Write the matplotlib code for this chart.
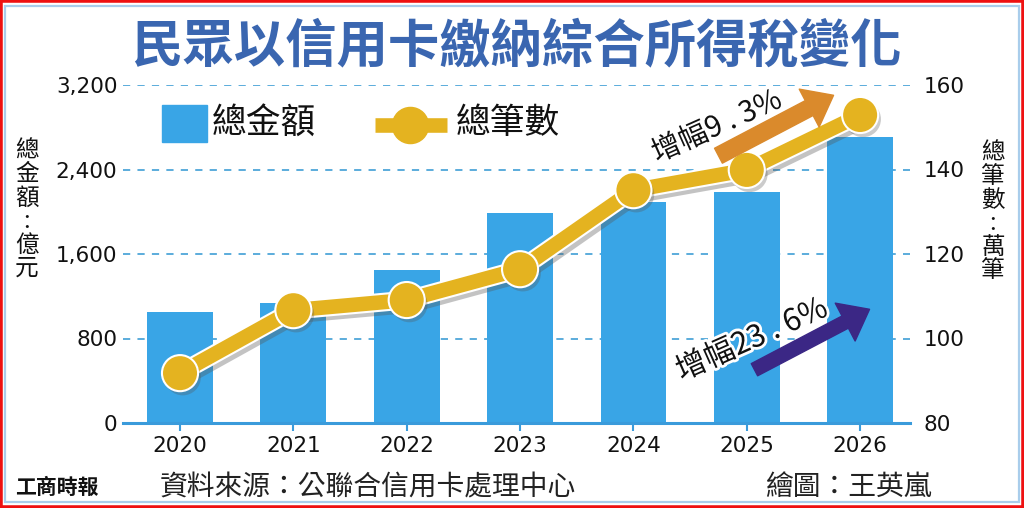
import matplotlib
matplotlib.use('Agg')
import matplotlib.pyplot as plt
import matplotlib.patheffects as pe
from matplotlib.patches import Rectangle, FancyArrowPatch
from matplotlib.lines import Line2D

plt.rcParams['font.family'] = ['Noto Sans CJK TC', 'DejaVu Sans']

years = ['2020', '2021', '2022', '2023', '2024', '2025', '2026']
amount = [1050, 1140, 1450, 1990, 2090, 2190, 2705]   # 總金額 億元
count = [91.8, 106.7, 109.1, 116.4, 135.1, 139.9, 152.9]  # 總筆數 萬筆
left_ticks = [0, 800, 1600, 2400, 3200]
right_ticks = [80, 100, 120, 140, 160]

W, H = 1024, 508
fig = plt.figure(figsize=(W / 100, H / 100), dpi=100)
fig.patch.set_facecolor('white')

def fx(px):
    return px / W

def fy(py):
    return 1 - py / H

bar_c = '#39A5E6'
line_c = '#E4B320'
grid_c = '#4EA6D9'

ax = fig.add_axes([fx(123), fy(423), fx(910) - fx(123), fy(85) - fy(423)])
x = list(range(len(years)))
ax.bar(x, amount, width=0.58, color=bar_c, zorder=2)
ax.set_xlim(-0.503, 6.44)
ax.set_ylim(0, 3200)
ax.set_yticks(left_ticks)
ax.set_yticklabels([f'{v:,}' for v in left_ticks])
ax.set_xticks(x)
ax.set_xticklabels(years)
ax.set_axisbelow(True)
ax.grid(axis='y', color=grid_c, linestyle=(0, (4, 4)), linewidth=1.3)
for s in ['top', 'right', 'left']:
    ax.spines[s].set_visible(False)
ax.spines['bottom'].set_color('#3A9BDB')
ax.spines['bottom'].set_linewidth(2.2)
ax.spines['bottom'].set_zorder(5)
ax.tick_params(axis='y', length=0, pad=4, labelsize=15.5)
ax.tick_params(axis='x', length=6, width=1.5, color='#3A9BDB', pad=3, labelsize=15.5)
for lab in ax.get_xticklabels() + ax.get_yticklabels():
    lab.set_family('DejaVu Sans')
    lab.set_color('#111111')

ax2 = ax.twinx()
ax2.set_ylim(80, 160)
ax2.set_yticks(right_ticks)
for s in ['top', 'right', 'left', 'bottom']:
    ax2.spines[s].set_visible(False)
ax2.tick_params(axis='y', length=0, pad=10, labelsize=15.5)
for lab in ax2.get_yticklabels():
    lab.set_family('DejaVu Sans')
    lab.set_color('#111111')

shadow = pe.SimpleLineShadow(offset=(3, -4), shadow_color='#555555', alpha=0.35)
ax2.plot(x, count, color=line_c, linewidth=10.5, solid_joinstyle='round',
         path_effects=[shadow, pe.Stroke(linewidth=13.5, foreground='white'), pe.Normal()],
         zorder=4)
ax2.plot(x, count, linestyle='none', marker='o', markersize=26,
         markerfacecolor=line_c, markeredgecolor='white', markeredgewidth=1.5,
         path_effects=[pe.SimplePatchShadow(offset=(2, -3), shadow_rgbFace='#555555', alpha=0.3),
                       pe.Normal()], zorder=5)

# title
fig.text(fx(516), fy(46), '民眾以信用卡繳納綜合所得稅變化', ha='center', va='center',
         fontsize=37, fontweight='bold', color='#3A66B0')

# legend
fig.patches.append(Rectangle((fx(162), fy(142)), fx(45), 37 / H, transform=fig.transFigure,
                             color=bar_c, zorder=5))
fig.text(fx(212), fy(124), '總金額', ha='left', va='center', fontsize=25, color='#111111')
fig.add_artist(Line2D([fx(375), fx(447)], [fy(125), fy(125)], transform=fig.transFigure,
                      color=line_c, linewidth=10.5, solid_capstyle='butt', zorder=5))
fig.add_artist(Line2D([fx(410)], [fy(125)], transform=fig.transFigure, marker='o',
                      markersize=26, color=line_c, markeredgecolor=line_c, zorder=6))
fig.text(fx(456), fy(124), '總筆數', ha='left', va='center', fontsize=25, color='#111111')

# axis titles
fig.text(fx(27), fy(210), '\n'.join(['總', '金', '額', ':', '億', '元']), ha='center',
         va='center', fontsize=17, linespacing=1.02, color='#111111')
fig.text(fx(993), fy(212), '\n'.join(['總', '筆', '數', ':', '萬', '筆']), ha='center',
         va='center', fontsize=17, linespacing=1.02, color='#111111')

# growth annotations
white_edge = [pe.withStroke(linewidth=4, foreground='white')]
fig.add_artist(FancyArrowPatch(
    (fx(716), fy(157)), (fx(836), fy(94)), transform=fig.transFigure,
    arrowstyle='simple,head_length=0.9,head_width=1.4,tail_width=0.55',
    mutation_scale=22, color='#DA8A2C', zorder=6))
fig.text(fx(717), fy(127), '增幅9 . 3%', ha='center', va='center', rotation=24,
         fontsize=21, color='#111111', path_effects=white_edge, zorder=7)
fig.add_artist(FancyArrowPatch(
    (fx(752), fy(371)), (fx(872), fy(308)), transform=fig.transFigure,
    arrowstyle='simple,head_length=0.9,head_width=1.4,tail_width=0.45',
    mutation_scale=22, color='#3B2785', zorder=6))
fig.text(fx(752), fy(340), '增幅23 . 6%', ha='center', va='center', rotation=24,
         fontsize=22, color='#111111', path_effects=white_edge, zorder=7)

# footer
fig.text(fx(15), fy(487), '工商時報', ha='left', va='center', fontsize=15,
         fontweight='black', color='#111111')
fig.text(fx(160), fy(487), '資料來源：公聯合信用卡處理中心', ha='left', va='center',
         fontsize=20, color='#222222')
fig.text(fx(765), fy(487), '繪圖：王英嵐', ha='left', va='center',
         fontsize=20, color='#222222')

# frames
fig.patches.append(Rectangle((fx(5), 6 / H), fx(1014), 1 - 12 / H, transform=fig.transFigure,
                             fill=False, edgecolor='#A9CDEB', linewidth=1.6, zorder=1))
fig.patches.append(Rectangle((0, 0), 1, 1, transform=fig.transFigure,
                             fill=False, edgecolor='#EE1111', linewidth=4, zorder=10))

fig.savefig('out.png', dpi=100, facecolor='white')
